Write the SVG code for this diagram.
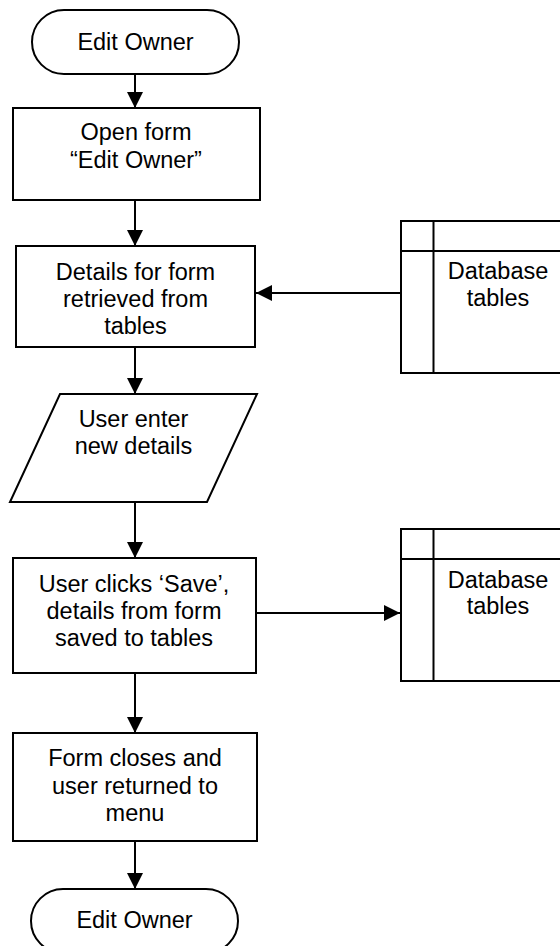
<svg xmlns="http://www.w3.org/2000/svg" width="560" height="946" viewBox="0 0 560 946">
<defs>
<style>
.s{fill:#fff;stroke:#000;stroke-width:2}
.c{fill:none;stroke:#000;stroke-width:2}
text{font-family:"Liberation Sans",Arial,Helvetica,sans-serif;font-size:23.5px;fill:#000;text-anchor:middle}
</style>
<marker id="ah" markerUnits="userSpaceOnUse" markerWidth="16" markerHeight="16" refX="16" refY="8" orient="auto">
<path d="M0,0 L16,8 L0,16 Z" fill="#000"/>
</marker>
</defs>
<rect width="560" height="946" fill="#fff"/>
<g id="connectors">
<line class="c" x1="135" y1="74" x2="135" y2="108" marker-end="url(#ah)"/>
<line class="c" x1="135" y1="200" x2="135" y2="246" marker-end="url(#ah)"/>
<line class="c" x1="400" y1="293" x2="256" y2="293" marker-end="url(#ah)"/>
<line class="c" x1="135" y1="347" x2="135" y2="394" marker-end="url(#ah)"/>
<line class="c" x1="135" y1="502" x2="135" y2="558" marker-end="url(#ah)"/>
<line class="c" x1="256" y1="613" x2="400" y2="613" marker-end="url(#ah)"/>
<line class="c" x1="135" y1="673" x2="135" y2="733" marker-end="url(#ah)"/>
<line class="c" x1="135" y1="841" x2="135" y2="889" marker-end="url(#ah)"/>
</g>
<g id="start">
<rect class="s" x="32" y="10" width="207" height="64" rx="32" ry="32"/>
<text x="135.5" y="50">Edit Owner</text>
</g>
<g id="open-form">
<rect class="s" x="13" y="108" width="247" height="92"/>
<text x="136" y="140">Open form</text>
<text x="136" y="168">“Edit Owner”</text>
</g>
<g id="details-retrieved">
<rect class="s" x="16" y="246" width="239" height="101"/>
<text x="135.5" y="280">Details for form</text>
<text x="135.5" y="307">retrieved from</text>
<text x="135.5" y="334">tables</text>
</g>
<g id="db1">
<rect class="s" x="401" y="221" width="165" height="152"/>
<line class="c" x1="401" y1="251" x2="566" y2="251"/>
<line class="c" x1="433.5" y1="221" x2="433.5" y2="373"/>
<text x="498" y="279">Database</text>
<text x="498" y="306">tables</text>
</g>
<g id="user-enter">
<polygon class="s" points="60,394 257,394 207,502 10,502"/>
<text x="133.5" y="427">User enter</text>
<text x="133.5" y="454">new details</text>
</g>
<g id="save">
<rect class="s" x="13" y="558" width="243" height="115"/>
<text x="134" y="592">User clicks ‘Save’,</text>
<text x="134" y="619">details from form</text>
<text x="134" y="646">saved to tables</text>
</g>
<g id="db2">
<rect class="s" x="401" y="529" width="165" height="152"/>
<line class="c" x1="401" y1="559" x2="566" y2="559"/>
<line class="c" x1="433.5" y1="529" x2="433.5" y2="681"/>
<text x="498" y="588">Database</text>
<text x="498" y="614">tables</text>
</g>
<g id="form-closes">
<rect class="s" x="13" y="733" width="244" height="108"/>
<text x="135" y="766">Form closes and</text>
<text x="135" y="794">user returned to</text>
<text x="135" y="821">menu</text>
</g>
<g id="end">
<rect class="s" x="31" y="889" width="207" height="64" rx="32" ry="32"/>
<text x="134.5" y="928">Edit Owner</text>
</g>
</svg>
